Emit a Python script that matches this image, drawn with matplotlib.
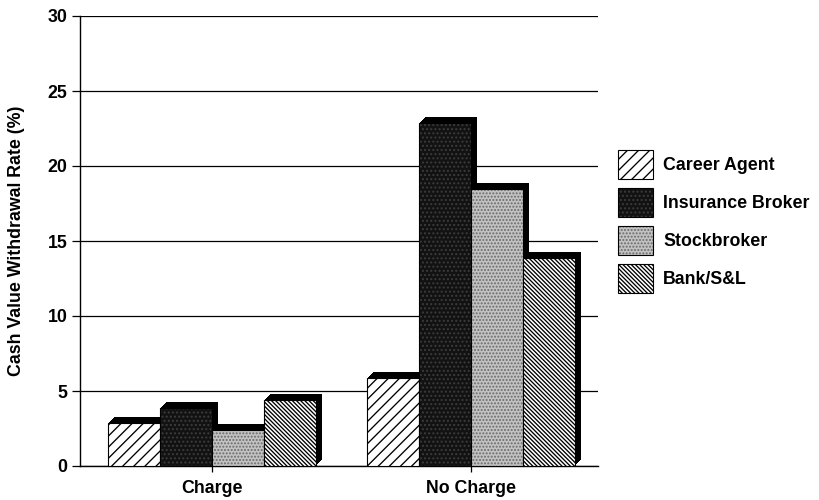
import numpy as np
import matplotlib
matplotlib.use("Agg")
import matplotlib.pyplot as plt
from matplotlib.transforms import ScaledTranslation
from matplotlib.patches import Patch

# Data
groups = ["Charge", "No Charge"]
series = ["Career Agent", "Insurance Broker", "Stockbroker", "Bank/S&L"]
career_agent = [2.9, 5.9]
insurance_broker = [3.9, 22.9]
stockbroker = [2.4, 18.5]
bank_sl = [4.4, 13.9]
values = [career_agent, insurance_broker, stockbroker, bank_sl]
y_ticks = [0, 5, 10, 15, 20, 25, 30]

# Styles for each series' front face
faces = ["white", "#121212", "#c2c2c2", "white"]
hatch_colors = ["black", "#3c3c3c", "#6a6a6a", "black"]
hatches = ["///", "....", ".....", "\\\\\\\\\\\\\\\\"]

plt.rcParams["font.family"] = ["Liberation Sans", "DejaVu Sans"]
plt.rcParams["hatch.linewidth"] = 0.95

FS = 12.8

fig = plt.figure(figsize=(8.19, 5.0), dpi=100)
ax = fig.add_axes([80 / 819, 34 / 500, 518 / 819, 450 / 500])

x = np.arange(len(groups))
width = 0.2
offsets = (np.arange(len(series)) - 1.5) * width

# depth of the extruded bars (inches)
depth_x, depth_y = 0.062, 0.058
steps = 12

z = 3
for i, (name, vals) in enumerate(zip(series, values)):
    xpos = x + offsets[i]
    # black extrusion behind the front face
    for k in range(1, steps + 1):
        sh = ax.bar(xpos, vals, width, color="black", linewidth=0, zorder=z)
        tr = ax.transData + ScaledTranslation(depth_x * k / steps, depth_y * k / steps,
                                              fig.dpi_scale_trans)
        for p in sh:
            p.set_transform(tr)
    z += 1
    # front face
    ax.bar(xpos, vals, width, color=faces[i], hatch=hatches[i],
           edgecolor=hatch_colors[i], linewidth=0, zorder=z)
    ax.bar(xpos, vals, width, facecolor="none", edgecolor="black",
           linewidth=0.8, zorder=z + 0.5)
    z += 1

# legend swatches
handles = [(Patch(facecolor=faces[i], hatch=hatches[i], edgecolor=hatch_colors[i],
                  linewidth=0),
            Patch(facecolor="none", edgecolor="black", linewidth=0.8))
           for i in range(len(series))]
fig.legend(handles, series, loc="upper left",
           bbox_to_anchor=(618 / 819, 1 - 150 / 500),
           frameon=False, handlelength=1.97, handleheight=2.13,
           labelspacing=0.5, handletextpad=0.56, borderpad=0, borderaxespad=0,
           prop={"weight": "bold", "size": FS})

ax.set_xlim(-0.51, 1.49)
ax.set_ylim(0, 30)
ax.set_yticks(y_ticks)
ax.set_yticklabels([str(t) for t in y_ticks], fontsize=FS, fontweight="bold")
ax.set_xticks(x)
ax.set_xticklabels(groups, fontsize=FS, fontweight="bold")
ax.tick_params(axis="y", length=6, width=0.9, pad=3)
ax.tick_params(axis="x", length=4, width=0.9, pad=6)
ax.yaxis.grid(True, color="black", linewidth=0.9, zorder=0)
ax.set_axisbelow(True)
for s in ["top", "right"]:
    ax.spines[s].set_visible(False)
for s in ["left", "bottom"]:
    ax.spines[s].set_linewidth(1.0)
ax.set_ylabel("Cash Value Withdrawal Rate (%)", fontsize=FS, fontweight="bold",
              labelpad=16)

fig.savefig("out.png", dpi=100)
